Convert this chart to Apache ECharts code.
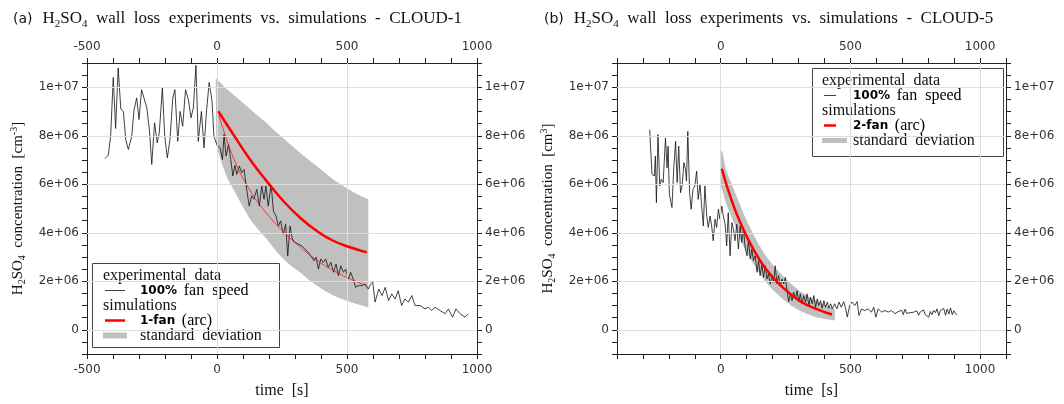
<!DOCTYPE html>
<html>
<head>
<meta charset="utf-8">
<script src="https://cdn.jsdelivr.net/npm/echarts@6/dist/echarts.min.js"></script>
<style>
  html, body { margin: 0; padding: 0; background: #fff; }
  #chart { width: 1064px; height: 404px; }
</style>
</head>
<body>
<div id="chart"></div>
<script>
  // concentrations in units of 1e6 cm^-3, time in s

  // (a) CLOUD-1, experimental data (100% fan speed)
  const expTimeA = [-431, -418, -409, -399, -390, -380, -370, -360, -351, -341, -328, -319, -309, -300, -290, -281, -270, -260, -251, -240,
    -230, -222, -210, -201, -191, -181, -170, -162, -151, -142, -132, -121, -110, -100, -91, -81, -72, -60, -50, -40,
    -30, -19, -12, -1, 6, 12, 21, 27, 35, 44, 53, 61, 69, 76, 86, 95, 104, 114, 124, 133,
    142, 153, 163, 172, 181, 188, 197, 208, 217, 227, 236, 245, 255, 264, 272, 281, 290, 300, 313, 326,
    338, 351, 364, 373, 381, 390, 399, 409, 418, 428, 438, 448, 458, 467, 476, 486, 495, 505, 514, 524,
    533, 544, 557, 569, 582, 591, 599, 608, 622, 635, 647, 660, 672, 685, 697, 710, 723, 736, 749, 762,
    781, 800, 813, 826, 838, 858, 877, 890, 906, 919, 935, 954, 967];
  const expConcA = [7.06, 7.2, 8.0, 10.4, 8.3, 10.8, 9.1, 9.0, 7.84, 7.43, 7.98, 9.07, 9.56, 8.67, 9.9, 9.56, 9.15, 8.25, 6.82, 8.53,
    7.71, 8.12, 9.97, 7.98, 7.09, 7.84, 9.56, 9.9, 7.77, 9.0, 8.39, 9.9, 9.49, 8.74, 9.15, 10.9, 7.77, 9.0, 7.5, 9.07,
    10.2, 9.42, 7.98, 7.64, 7.7, 7.5, 7.02, 8.05, 7.16, 7.64, 7.02, 6.34, 6.78, 6.41, 6.75, 6.48, 6.61, 5.79, 5.1, 5.52,
    5.38, 5.79, 5.1, 5.93, 5.38, 5.93, 5.1, 6.0, 4.9, 4.69, 4.28, 4.49, 3.94, 4.35, 3.05, 4.28, 3.74, 3.6, 3.53, 3.46,
    3.33, 3.19, 2.99, 2.85, 2.99, 2.5, 2.92, 2.78, 2.92, 2.57, 2.78, 2.37, 2.71, 2.23, 2.64, 2.37, 2.5, 2.09, 2.37, 2.09,
    1.75, 1.82, 1.82, 1.89, 1.68, 1.89, 1.96, 1.14, 1.68, 1.41, 1.75, 1.2, 1.48, 1.27, 1.61, 1.0, 1.27, 1.14, 1.41, 1.0,
    1.0, 0.86, 0.93, 0.79, 0.93, 0.79, 0.66, 0.86, 0.52, 0.86, 0.66, 0.52, 0.66];

  // (a) simulation 1-fan (arc), thin fit line, standard deviation band
  const simTimeA = [5, 63, 127, 191, 255, 319, 383, 447, 512, 576];
  const simConcA = [9.01, 8.05, 7.02, 6.13, 5.31, 4.63, 4.08, 3.67, 3.40, 3.19];
  const fitTimeA = [7, 63, 127, 191, 255, 319, 383, 447, 512, 576];
  const fitConcA = [8.87, 7.1, 5.75, 4.8, 4.05, 3.42, 2.88, 2.45, 2.1, 1.82];
  const bandTopTimeA = [-5, 30, 63, 95, 127, 159, 191, 223, 255, 287, 319, 351, 383, 415, 447, 480, 512, 547, 582];
  const bandTopA = [10.38, 10.0, 9.69, 9.4, 9.1, 8.8, 8.53, 8.2, 7.9, 7.6, 7.3, 7.02, 6.75, 6.47, 6.2, 5.97, 5.75, 5.55, 5.38];
  const bandLowTimeA = [-3, 20, 40, 63, 95, 127, 159, 191, 223, 255, 287, 319, 351, 383, 415, 447, 480, 512, 547, 582];
  const bandLowA = [7.6, 6.8, 6.25, 5.79, 5.15, 4.56, 4.12, 3.74, 3.3, 2.92, 2.62, 2.37, 2.08, 1.82, 1.6, 1.41, 1.27, 1.14, 1.03, 0.93];

  // (b) CLOUD-5, experimental data (100% fan speed)
  const expTimeB = [-274, -265, -256, -252, -248, -242, -235, -229, -222, -219, -213, -207, -203, -198, -191, -188, -181, -174, -168, -162,
    -155, -149, -142, -136, -132, -127, -120, -114, -107, -100, -93, -87, -80, -74, -67, -61, -54, -48, -41, -35,
    -29, -22, -16, -9, -3, 4, 10, 17, 23, 29, 36, 43, 49, 55, 62, 68, 75, 81, 88, 94,
    101, 107, 114, 120, 126, 133, 140, 146, 152, 159, 165, 172, 178, 184, 191, 198, 204, 210, 217, 223,
    230, 236, 243, 249, 256, 262, 269, 275, 281, 288, 294, 301, 307, 314, 320, 327, 333, 340, 346, 353,
    359, 366, 372, 378, 385, 391, 398, 404, 411, 417, 424, 430, 439, 448, 456, 465, 474, 482, 488, 497,
    506, 517, 526, 533, 543, 555, 568, 581, 590, 598, 607, 620, 633, 646, 659, 672, 684, 691, 698, 704,
    711, 717, 724, 730, 737, 743, 750, 756, 763, 769, 776, 782, 789, 795, 802, 808, 815, 821, 828, 834,
    841, 847, 854, 860, 867, 873, 880, 886, 893, 899, 905, 910];
  const expConcB = [8.25, 6.41, 6.34, 7.16, 5.24, 8.05, 5.93, 6.2, 6.07, 6.0, 7.91, 6.68, 7.57, 5.59, 5.52, 5.04, 6.68, 7.77, 6.07, 7.57,
    5.65, 5.93, 6.89, 6.61, 6.13, 8.18, 5.65, 4.97, 5.79, 5.93, 6.54, 5.38, 6.0, 5.17, 4.28, 5.93, 4.69, 4.22, 4.69, 4.28,
    3.67, 4.56, 4.22, 4.97, 4.56, 5.1, 4.69, 4.35, 3.46, 4.83, 3.05, 4.42, 4.15, 3.67, 4.35, 3.33, 4.28, 3.6, 4.15, 3.4,
    3.05, 3.67, 2.92, 3.33, 2.85, 3.05, 2.37, 2.85, 2.23, 2.71, 2.16, 2.64, 2.09, 2.3, 1.89, 2.23, 1.96, 2.64, 1.89, 2.23,
    1.82, 2.09, 1.89, 2.16, 1.61, 1.16, 1.48, 1.2, 1.55, 1.27, 1.61, 1.14, 1.48, 1.07, 1.41, 1.14, 1.48, 1.0, 1.34, 1.07,
    1.41, 0.93, 1.27, 1.0, 1.2, 0.89, 1.2, 0.93, 1.14, 0.89, 1.07, 0.86, 1.07, 0.86, 1.14, 0.93, 1.16, 0.86, 0.52, 1.0,
    1.14, 1.0, 1.16, 0.59, 0.86, 0.79, 0.86, 0.73, 0.93, 0.52, 0.86, 0.73, 0.79, 0.73, 0.79, 0.66, 0.75, 0.7, 0.8, 0.62,
    0.85, 0.68, 0.74, 0.7, 0.64, 0.72, 0.66, 0.78, 0.6, 0.73, 0.67, 0.82, 0.62, 0.7, 0.52, 0.75, 0.62, 0.8, 0.7, 0.86,
    0.58, 0.8, 0.72, 0.88, 0.6, 0.85, 0.65, 0.9, 0.62, 0.78, 0.68, 0.6];

  // (b) simulation 2-fan (arc) and standard deviation band
  const simTimeB = [4, 45, 84, 122, 174, 239, 303, 368, 429];
  const simConcB = [6.64, 5.24, 4.22, 3.40, 2.51, 1.75, 1.20, 0.86, 0.63];
  const bandTimeB = [-3, 6, 20, 45, 65, 84, 103, 122, 148, 174, 206, 239, 271, 303, 335, 368, 404, 440];
  const bandTopB = [7.36, 7.36, 6.6, 5.93, 5.4, 4.9, 4.43, 4.01, 3.5, 3.05, 2.6, 2.23, 1.9, 1.61, 1.39, 1.2, 1.02, 0.86];
  const bandLowB = [6.0, 5.75, 5.22, 4.56, 4.0, 3.53, 3.12, 2.78, 2.35, 1.96, 1.59, 1.27, 1.0, 0.79, 0.64, 0.52, 0.44, 0.38];

  // grid lines
  const yGridVals = [0, 2, 4, 6, 8, 10];
  const xGridA = [0, 500];
  const xGridB = [0, 500, 1000];

  const zip = (a, b) => a.map((v, i) => [v, b[i]]);
  const SERIF = 'Liberation Serif';
  const SANS = 'DejaVu Sans';

  function sciLabel(v) {
    if (v < 0 || Math.abs(v % 2) > 1e-9) return '';
    if (v === 0) return '0';
    const parts = (v * 1e6).toExponential(0).split('e');
    const e = parts[1];
    return parts[0] + 'e' + e[0] + e.slice(1).padStart(2, '0');
  }
  function timeLabel(v) {
    return v % 500 === 0 ? String(v) : '';
  }

  const axisLineStyle = { color: '#222', width: 1 };
  const labelStyle = { fontFamily: SANS, fontSize: 12, color: '#333' };

  function xAxisDef(grid, pos, min, max, withName) {
    return {
      type: 'value', gridIndex: grid, position: pos, min: min, max: max, interval: 100,
      axisLine: { show: true, onZero: false, lineStyle: axisLineStyle },
      axisTick: { show: true, inside: false, length: 5, lineStyle: axisLineStyle },
      axisLabel: Object.assign({ formatter: timeLabel, margin: 10 }, labelStyle),
      splitLine: { show: false },
      name: withName ? 'time  [s]' : '',
      nameLocation: 'middle',
      nameGap: 29,
      nameTextStyle: { fontFamily: SERIF, fontSize: 16, color: '#111' }
    };
  }

  function yAxisDef(grid, pos, nameText) {
    return {
      type: 'value', gridIndex: grid, position: pos, min: -1, max: 11, interval: 0.5,
      axisLine: { show: true, onZero: false, lineStyle: axisLineStyle },
      axisTick: { show: true, inside: false, length: 5, lineStyle: axisLineStyle },
      axisLabel: Object.assign({ formatter: sciLabel, margin: 8 }, labelStyle),
      splitLine: { show: false },
      name: nameText || '',
      nameLocation: 'middle',
      nameGap: 60,
      nameTextStyle: {
        color: '#111',
        rich: {
          t: { fontFamily: SERIF, fontSize: 15, color: '#111', lineHeight: 18 },
          s: { fontFamily: SERIF, fontSize: 10, color: '#111', verticalAlign: 'bottom', lineHeight: 10 },
          p: { fontFamily: SERIF, fontSize: 10, color: '#111', verticalAlign: 'top', lineHeight: 10 }
        }
      }
    };
  }

  function gridLines(xi, yi, xVals) {
    return {
      type: 'line', xAxisIndex: xi, yAxisIndex: yi, data: [], z: 1, silent: true,
      markLine: {
        silent: true, symbol: ['none', 'none'], animation: false,
        label: { show: false },
        lineStyle: { color: '#dedede', width: 1, type: 'solid' },
        data: xVals.map(v => ({ xAxis: v })).concat(yGridVals.map(v => ({ yAxis: v })))
      }
    };
  }

  function band(xi, yi, top, low) {
    return {
      type: 'custom', xAxisIndex: xi, yAxisIndex: yi, z: 2, silent: true,
      data: [[0, 0]],
      renderItem: function (params, api) {
        const pts = top.map(p => api.coord(p)).concat(low.slice().reverse().map(p => api.coord(p)));
        return { type: 'polygon', shape: { points: pts }, style: { fill: '#c0c0c0' } };
      }
    };
  }

  function lineSeries(xi, yi, data, color, width, z, smooth) {
    return {
      type: 'line', xAxisIndex: xi, yAxisIndex: yi, data: data, z: z,
      symbol: 'none', smooth: smooth || false, silent: true,
      lineStyle: { color: color, width: width }
    };
  }

  function titleText(tag, name) {
    return '{a|(' + tag + ')}  {t|H}{s|2}{t|SO}{s|4}{t|  wall  loss  experiments  vs.  simulations  -  ' + name + '}';
  }
  const titleRich = {
    a: { fontFamily: SANS, fontSize: 14, color: '#111', fontWeight: 'normal' },
    t: { fontFamily: SERIF, fontSize: 17, color: '#111', lineHeight: 22, fontWeight: 'normal' },
    s: { fontFamily: SERIF, fontSize: 11, color: '#111', verticalAlign: 'bottom', lineHeight: 12, fontWeight: 'normal' }
  };

  const legendRich = {
    r: { fontFamily: SERIF, fontSize: 16, color: '#111' },
    b: { fontFamily: SANS, fontSize: 12, color: '#111', fontWeight: 'bold' }
  };
  function legend(x, y, w, h, tx, sample, simName, gx1, gx2, gw) {
    const els = [
      { type: 'rect', shape: { x: x, y: y, width: w, height: h }, style: { fill: '#fff', stroke: '#444', lineWidth: 1 } },
      { type: 'text', style: { x: tx, y: y + 12, text: 'experimental  data', font: '16px "' + SERIF + '"', fill: '#111', verticalAlign: 'middle' } },
      { type: 'line', shape: { x1: sample[0], y1: y + 27, x2: sample[1], y2: y + 27 }, style: { stroke: '#111', lineWidth: 0.8 } },
      { type: 'text', style: { x: sample[2], y: y + 27, text: '{b|100%}  {r|fan  speed}', rich: legendRich, verticalAlign: 'middle' } },
      { type: 'text', style: { x: tx, y: y + 42, text: 'simulations', font: '16px "' + SERIF + '"', fill: '#111', verticalAlign: 'middle' } },
      { type: 'line', shape: { x1: sample[0], y1: y + 57, x2: sample[1], y2: y + 57 }, style: { stroke: '#ff0000', lineWidth: 2.5 } },
      { type: 'text', style: { x: sample[2], y: y + 57, text: '{b|' + simName + '}  {r|(arc)}', rich: legendRich, verticalAlign: 'middle' } },
      { type: 'line', shape: { x1: gx1, y1: y + 72, x2: gx2, y2: y + 72 }, style: { stroke: '#c0c0c0', lineWidth: gw } },
      { type: 'text', style: { x: sample[2], y: y + 72, text: 'standard  deviation', font: '16px "' + SERIF + '"', fill: '#111', verticalAlign: 'middle' } }
    ];
    return { type: 'group', z: 100, children: els };
  }

  const chart = echarts.init(document.getElementById('chart'), null, { renderer: 'canvas' });
  const yName = '{t|H}{s|2}{t|SO}{s|4}{t|  concentration  [cm}{p|-3}{t|]}';
  const yNameB = '{t|H}{s|2}{t|SO}{s|4}{t|  concentration  [cm}{p|3}{t|]}';

  chart.setOption({
    animation: false,
    backgroundColor: '#fff',
    title: [
      { text: titleText('a', 'CLOUD-1'), left: 8, top: 3, textStyle: { fontWeight: 'normal', rich: titleRich } },
      { text: titleText('b', 'CLOUD-5'), left: 539, top: 3, textStyle: { fontWeight: 'normal', rich: titleRich } }
    ],
    grid: [
      { left: 87, right: 587, top: 63, bottom: 47 },
      { left: 617, right: 58, top: 63, bottom: 47 }
    ],
    xAxis: [
      xAxisDef(0, 'bottom', -500, 1000, true),
      xAxisDef(0, 'top', -500, 1000, false),
      xAxisDef(1, 'bottom', -400, 1100, true),
      xAxisDef(1, 'top', -400, 1100, false)
    ],
    yAxis: [
      yAxisDef(0, 'left', yName),
      yAxisDef(0, 'right'),
      yAxisDef(1, 'left', yNameB),
      yAxisDef(1, 'right')
    ],
    series: [
      gridLines(0, 0, xGridA),
      band(0, 0, zip(bandTopTimeA, bandTopA), zip(bandLowTimeA, bandLowA)),
      lineSeries(0, 0, zip(expTimeA, expConcA), '#111', 0.8, 3),
      lineSeries(0, 0, zip(fitTimeA, fitConcA), '#ff0000', 0.7, 4, true),
      lineSeries(0, 0, zip(simTimeA, simConcA), '#ff0000', 2.5, 5, true),

      gridLines(2, 2, xGridB),
      band(2, 2, zip(bandTimeB, bandTopB), zip(bandTimeB, bandLowB)),
      lineSeries(2, 2, zip(expTimeB, expConcB), '#111', 0.8, 3),
      lineSeries(2, 2, zip(simTimeB, simConcB), '#ff0000', 2.5, 5, true)
    ],
    graphic: [
      legend(92.5, 263.5, 187, 84, 103, [105, 125, 140], '1-fan', 103, 127, 6),
      legend(812.5, 68.5, 191, 88, 822, [824, 836, 853], '2-fan', 822, 847, 5)
    ]
  });
</script>
</body>
</html>
